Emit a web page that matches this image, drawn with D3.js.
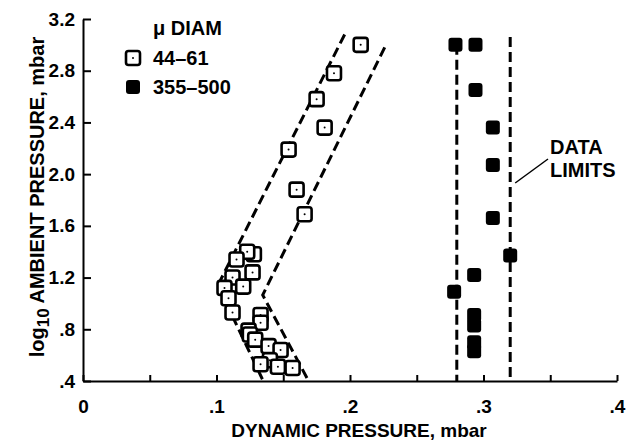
<!DOCTYPE html>
<html>
<head>
<meta charset="utf-8">
<script src="https://cdn.jsdelivr.net/npm/d3@7"></script>
<style>
  body { margin: 0; background: #fff; }
  svg text { font-family: "Liberation Sans", Arial, sans-serif; font-weight: bold; fill: #000; }
</style>
</head>
<body>
<svg id="chart" width="627" height="445"></svg>
<script>
// small particles, 44-61 micron (open squares): [dynamic pressure, log10 ambient pressure]
const small_diam = [
    [0.208, 3.00], [0.188, 2.78], [0.175, 2.58], [0.181, 2.36], [0.154, 2.19],
    [0.160, 1.88], [0.166, 1.69], [0.128, 1.38], [0.123, 1.40], [0.115, 1.34],
    [0.127, 1.24], [0.112, 1.20], [0.120, 1.13], [0.106, 1.12], [0.109, 1.04],
    [0.112, 0.93], [0.133, 0.91], [0.133, 0.85], [0.124, 0.79], [0.125, 0.76],
    [0.129, 0.72], [0.139, 0.67], [0.148, 0.64], [0.140, 0.56], [0.133, 0.53],
    [0.146, 0.51], [0.157, 0.50]
];
// large particles, 355-500 micron (filled squares)
const large_diam = [
    [0.279, 3.00], [0.294, 3.00], [0.294, 2.65], [0.307, 2.36], [0.307, 2.07],
    [0.307, 1.66], [0.320, 1.37], [0.293, 1.22], [0.278, 1.09], [0.293, 0.91],
    [0.293, 0.83], [0.293, 0.70], [0.293, 0.63]
];
// dashed envelope lines
const small_left = [[0.196, 3.08], [0.101, 1.14], [0.135, 0.40]];
const small_right = [[0.226, 2.98], [0.1346, 1.065], [0.169, 0.40]];
const limit_low = [[0.28, 3.00], [0.28, 0.40]];
const limit_high = [[0.32, 3.06], [0.32, 0.40]];

const x_ticks = [0, 0.05, 0.1, 0.15, 0.2, 0.25, 0.3, 0.35, 0.4];
const y_ticks = [0.4, 0.8, 1.2, 1.6, 2.0, 2.4, 2.8, 3.2];
const legend_title = "\u03bc DIAM";
const legend_labels = ["44\u201361", "355\u2013500"];

const svg = d3.select("#chart");
const x = d3.scaleLinear().domain([0, 0.4]).range([83, 617]);
const y = d3.scaleLinear().domain([0.4, 3.2]).range([381, 19]);

// axes
const x_axis = d3.axisBottom(x)
    .tickValues(x_ticks)
    .tickSizeInner(-6)
    .tickSizeOuter(0)
    .tickPadding(19)
    .tickFormat(d => {
        if (Math.round(d * 100) % 10 !== 0) return "";
        return d === 0 ? "0" : d3.format(".1f")(d).replace(/^0/, "");
    });

const y_axis = d3.axisLeft(y)
    .tickValues(y_ticks)
    .tickSizeInner(-8)
    .tickSizeOuter(0)
    .tickPadding(8)
    .tickFormat(d => d >= 1 ? d.toFixed(1) : d.toFixed(1).replace(/^0/, ""));

const gx = svg.append("g").attr("transform", "translate(0,381)").call(x_axis);
const gy = svg.append("g").attr("transform", "translate(83,0)").call(y_axis);

[gx, gy].forEach(g => {
    g.selectAll("path, line").attr("stroke", "#000").attr("stroke-width", 2);
    g.selectAll("text").attr("font-size", "19px")
        .attr("font-family", "Liberation Sans, Arial, sans-serif");
});
gx.selectAll("text").attr("dy", "0.71em");

// axis titles
svg.append("text")
    .attr("x", 359)
    .attr("y", 437)
    .attr("text-anchor", "middle")
    .attr("font-size", "19px")
    .text("DYNAMIC PRESSURE, mbar");

const ytitle = svg.append("text")
    .attr("transform", "translate(44,197) rotate(-90)")
    .attr("text-anchor", "middle")
    .attr("font-size", "20px");
ytitle.append("tspan").text("log");
ytitle.append("tspan").attr("font-size", "17px").attr("dy", 5).text("10");
ytitle.append("tspan").attr("dy", -5).text(" AMBIENT PRESSURE, mbar");

// dashed lines
const line = d3.line().x(d => x(d[0])).y(d => y(d[1]));
[small_left, small_right, limit_low, limit_high].forEach(pts => {
    svg.append("path")
        .attr("d", line(pts))
        .attr("fill", "none")
        .attr("stroke", "#000")
        .attr("stroke-width", 3)
        .attr("stroke-dasharray", "10,5");
});

// DATA LIMITS note
svg.append("line")
    .attr("x1", 548).attr("y1", 159)
    .attr("x2", x(0.32) + 5).attr("y2", 183)
    .attr("stroke", "#000").attr("stroke-width", 1.5);
svg.append("text").attr("x", 550).attr("y", 154).attr("font-size", "20px").text("DATA");
svg.append("text").attr("x", 550).attr("y", 177).attr("font-size", "20px").text("LIMITS");

// markers
const sq = 14;
function open_square(g, cx, cy) {
    g.append("rect")
        .attr("x", cx - sq / 2).attr("y", cy - sq / 2)
        .attr("width", sq).attr("height", sq)
        .attr("rx", 2.5)
        .attr("fill", "#fff").attr("stroke", "#000").attr("stroke-width", 2.6);
    g.append("circle").attr("cx", cx).attr("cy", cy).attr("r", 1).attr("fill", "#000");
}
function filled_square(g, cx, cy) {
    g.append("rect")
        .attr("x", cx - 7).attr("y", cy - 7)
        .attr("width", 14).attr("height", 14)
        .attr("rx", 3)
        .attr("fill", "#000");
}

const marks = svg.append("g");
small_diam.forEach(d => open_square(marks, x(d[0]), y(d[1])));
large_diam.forEach(d => filled_square(marks, x(d[0]), y(d[1])));

// legend
const legend = svg.append("g");
legend.append("text").attr("x", 153).attr("y", 35).attr("font-size", "20px").text(legend_title);
open_square(legend, 133, 58);
filled_square(legend, 133, 87);
legend.append("text").attr("x", 153).attr("y", 65).attr("font-size", "20px").text(legend_labels[0]);
legend.append("text").attr("x", 153).attr("y", 94).attr("font-size", "20px").text(legend_labels[1]);
</script>
</body>
</html>
